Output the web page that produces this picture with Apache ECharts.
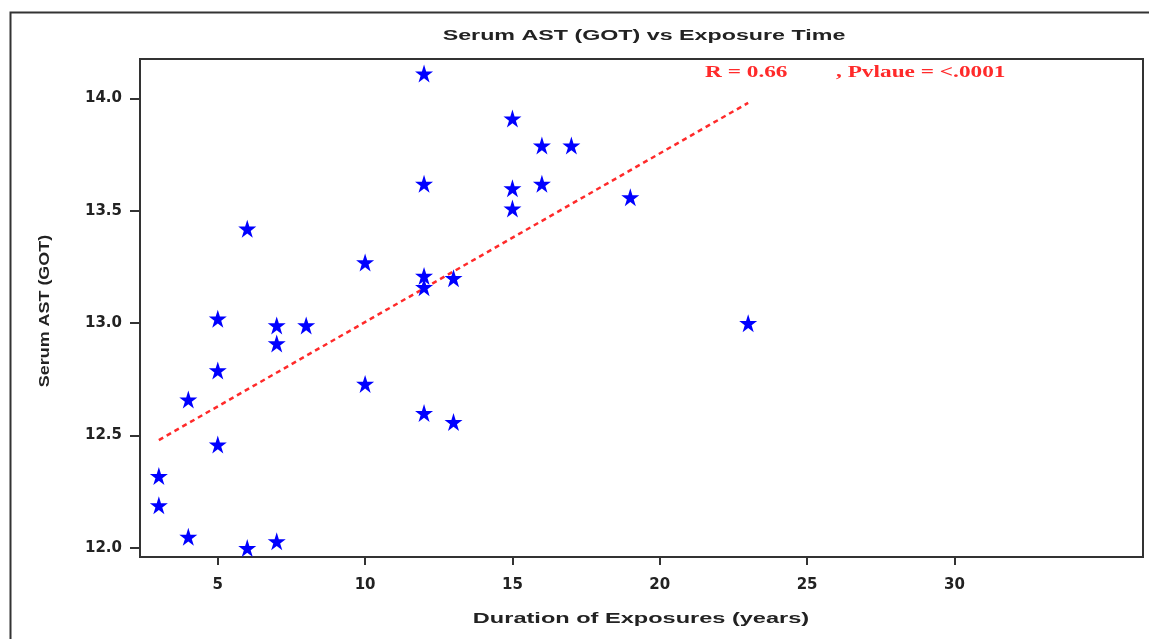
<!DOCTYPE html>
<html>
<head>
<meta charset="utf-8">
<script src="https://cdn.jsdelivr.net/npm/echarts@6/dist/echarts.min.js"></script>
<style>
html,body{margin:0;padding:0;background:#fff;}
#chart{width:1149px;height:639px;}
</style>
</head>
<body>
<div id="chart"></div>
<script>
// Data
const exposureYears = [3, 3, 4, 4, 5, 5, 5, 6, 6, 7, 7, 7, 8, 10, 10, 12, 12, 12, 12, 12, 13, 13, 15, 15, 15, 16, 16, 17, 19, 23];
const serumAST =      [12.32, 12.19, 12.66, 12.05, 13.02, 12.79, 12.46, 13.42, 12.00, 12.99, 12.91, 12.03, 12.99, 13.27, 12.73, 14.11, 13.62, 13.21, 13.16, 12.60, 13.20, 12.56, 13.91, 13.60, 13.51, 13.79, 13.62, 13.79, 13.56, 13.00];
const trendX = [3, 23];
const trendY = [12.48, 13.98];
const xTicks = [5, 10, 15, 20, 25, 30];
const yTicks = [12.0, 12.5, 13.0, 13.5, 14.0];
const chartTitle = 'Serum AST (GOT) vs Exposure Time';
const xName = 'Duration of Exposures (years)';
const yName = 'Serum AST (GOT)';
const statR = 'R = 0.66';
const statP = ', Pvlaue = <.0001';

const starPath = 'path://M50,2 L61.2,36.5 L97.6,36.5 L68.2,57.9 L79.4,92.4 L50,71 L20.6,92.4 L31.8,57.9 L2.4,36.5 L38.8,36.5 Z';

const points = exposureYears.map((x, i) => [x, serumAST[i]]);
const trend = trendX.map((x, i) => [x, trendY[i]]);

const tickFont = {fontFamily: 'DejaVu Sans', fontWeight: 'bold', fontSize: 15, color: '#222'};

const chart = echarts.init(document.getElementById('chart'), null, {renderer: 'canvas'});
chart.setOption({
  animation: false,
  backgroundColor: '#fff',
  grid: {left: 140, top: 59, right: 6, bottom: 82, show: true, borderColor: '#333', borderWidth: 2, backgroundColor: '#fff'},
  xAxis: {
    type: 'value', min: 2.36, max: 36.4,
    splitLine: {show: false},
    axisLine: {show: true, lineStyle: {color: '#333', width: 2}},
    axisTick: {show: true, length: 8, lineStyle: {color: '#333', width: 2}, customValues: xTicks},
    axisLabel: Object.assign({customValues: xTicks, margin: 21}, tickFont)
  },
  yAxis: {
    type: 'value', min: 11.96, max: 14.175,
    splitLine: {show: false},
    axisLine: {show: true, lineStyle: {color: '#333', width: 2}},
    axisTick: {show: true, length: 10, lineStyle: {color: '#333', width: 2}, customValues: yTicks},
    axisLabel: Object.assign({customValues: yTicks, margin: 18, formatter: v => v.toFixed(1)}, tickFont)
  },
  series: [
    {
      type: 'line', data: trend, symbol: 'none', silent: true,
      lineStyle: {color: '#ff2a2a', width: 2.5, type: [5, 4]},
      z: 2
    },
    {
      type: 'scatter', data: points, symbol: starPath, symbolSize: 18,
      itemStyle: {color: '#0000ff', opacity: 1},
      z: 3
    }
  ],
  graphic: [
    {type: 'rect', left: 8, top: 10, shape: {width: 1200, height: 700}, style: {fill: 'none', stroke: '#333', lineWidth: 2}, z: -10, silent: true},
    {type: 'text', x: 644, y: 36, scaleX: 1.55, style: {text: chartTitle, fill: '#222', font: 'bold 15px "Liberation Sans"', textAlign: 'center', textVerticalAlign: 'middle'}},
    {type: 'text', x: 641, y: 619, scaleX: 1.57, style: {text: xName, fill: '#222', font: 'bold 15px "Liberation Sans"', textAlign: 'center', textVerticalAlign: 'middle'}},
    {type: 'text', x: 45, y: 311, rotation: Math.PI / 2, scaleX: 1.28, style: {text: yName, fill: '#222', font: 'bold 14px "Liberation Sans"', textAlign: 'center', textVerticalAlign: 'middle'}},
    {type: 'text', x: 705, y: 73, scaleX: 1.37, style: {text: statR, fill: '#ff2a2a', font: 'bold 17px "Liberation Serif"', textVerticalAlign: 'middle'}},
    {type: 'text', x: 836, y: 73, scaleX: 1.37, style: {text: statP, fill: '#ff2a2a', font: 'bold 17px "Liberation Serif"', textVerticalAlign: 'middle'}}
  ]
});
</script>
</body>
</html>
